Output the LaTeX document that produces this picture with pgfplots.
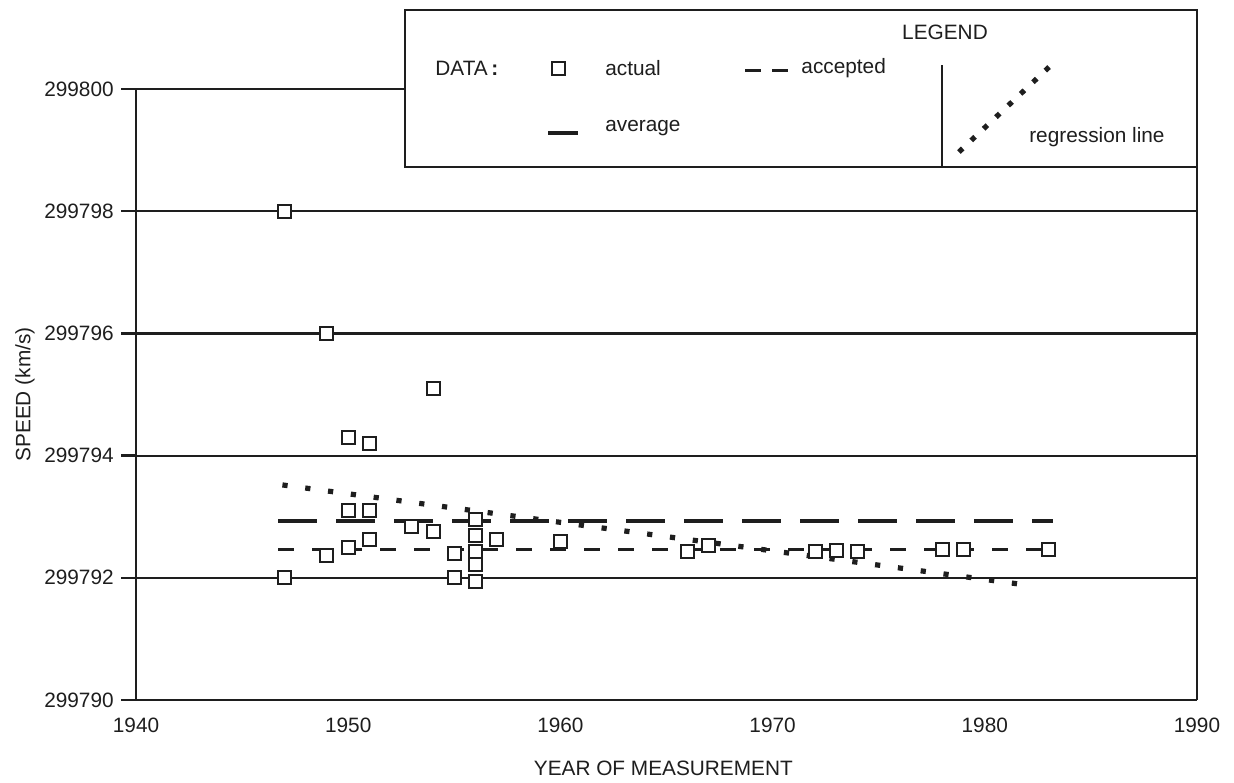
\documentclass[border=0pt]{standalone}
\usepackage{fontspec}
\setmainfont{Liberation Sans}
\usepackage{pgfplots}
\pgfplotsset{compat=1.18}
\definecolor{ink}{RGB}{30,30,30}
% exact textual shift of the speeds by 299790 (keeps sub-unit precision)
\makeatletter
\def\spTrafo#1{%
  \in@{Y}{#1}%
  \ifin@ \edef\sp@in{#1}\else \pgfmathfloatparsenumber{#1}\let\sp@in\pgfmathresult \fi
  \expandafter\sp@L\sp@in\sp@end}
\def\sp@L#1Y#2.#3e#4]#5\sp@end{%
  \ifnum#4=5 \sp@S#2#3000000\sp@end
  \else \edef\pgfmathresult{#1Y#2.#3e#4]}\fi}
\def\sp@S#1#2#3#4#5#6#7\sp@end{%
  \edef\sp@num{\the\numexpr#1#2#3#4#5#6-299790\relax.#7}%
  \pgfmathfloatparsenumber{\sp@num}}
\makeatother
\begin{document}
\fontsize{10.4}{12.5}\selectfont
\begin{tikzpicture}[font=\fontsize{10.4}{12.5}\selectfont]
\begin{axis}[
  scale only axis, width=530.5pt, height=305.5pt,
  xmin=1940, xmax=1990, ymin=299790, ymax=299800,
  y coord trafo/.code={\spTrafo{#1}},
  xtick={1940,1950,1960,1970,1980,1990},
  xticklabels={1940,1950,1960,1970,1980,1990},
  ytick={299790,299792,299794,299796,299798,299800},
  yticklabels={299790,299792,299794,299796,299798,299800},
  axis lines=left, axis line style={-, line width=1.2pt, draw=ink},
  xtick style={draw=none},
  ytick style={line width=1.2pt, draw=ink},
  tick align=outside, major tick length=7.5pt,
  ymajorgrids, grid style={line width=1.1pt, draw=ink},
  xticklabel style={yshift=2.3pt, text=ink},
  yticklabel style={text=ink},
  clip=false,
  xlabel={YEAR OF MEASUREMENT}, ylabel={SPEED (km/s)},
  xlabel style={at={(axis description cs:0.497,0)}, anchor=center, yshift=-34pt, text=ink},
  ylabel style={at={(axis description cs:-0.1046,0.5)}, anchor=center, text=ink},
]
% average
\addplot[ink, line width=2pt, dash pattern=on 19.5pt off 9.5pt] coordinates {(1946.7,299792.93)(1983.2,299792.93)};
% accepted
\addplot[ink, line width=1.5pt, dash pattern=on 8pt off 9pt] coordinates {(1946.7,299792.458)(1983.2,299792.458)};
% regression line
\addplot[ink, line width=2.6pt, dash pattern=on 2.6pt off 8.9pt] coordinates {(1946.9,299793.52)(1982,299791.88)};
% actual data
\addplot[only marks, mark=square*, mark size=3.25pt, mark options={fill=white, draw=ink, line width=1pt}] coordinates {
(1947,299798.0)(1949,299796.0)(1954,299795.1)(1950,299794.3)(1951,299794.2)
(1947,299792.0)(1949,299792.37)(1950,299793.1)(1951,299793.1)(1950,299792.5)
(1951,299792.62)(1953,299792.84)(1954,299792.75)(1955,299792.4)(1955,299792.0)
(1956,299792.95)(1956,299792.7)(1956,299792.43)(1956,299792.21)(1956,299791.94)
(1957,299792.62)(1960,299792.6)(1966,299792.43)(1967,299792.53)(1972,299792.43)
(1973,299792.45)(1974,299792.43)(1978,299792.46)(1979,299792.46)(1983,299792.46)};
% legend box
\draw[ink, line width=1.2pt] (rel axis cs:1,0) -- (rel axis cs:1,0.8723);
\draw[ink, line width=1.2pt, fill=white] (rel axis cs:0.2535,0.8723) rectangle (rel axis cs:1,1.1293);
\draw[ink, line width=1.2pt] (rel axis cs:0.7597,0.8723) -- (rel axis cs:0.7597,1.0393);
% legend samples
\addplot[forget plot, only marks, mark=square*, mark size=3.25pt, mark options={fill=white, draw=ink, line width=1pt}] coordinates {(1959.93,299800.344)};
\addplot[forget plot, ink, line width=1.5pt, dash pattern=on 8pt off 5.5pt] coordinates {(1968.70,299800.311)(1970.73,299800.311)};
\addplot[forget plot, ink, line width=2pt] coordinates {(1959.42,299799.28)(1960.83,299799.28)};
\addplot[forget plot, ink, line width=2.6pt, dash pattern=on 2.6pt off 5.88pt] coordinates {(1978.78,299798.969)(1983.03,299800.36)};
\node[anchor=center, text=ink] at (rel axis cs:0.7625,1.0933) {LEGEND};
\node[anchor=west, inner sep=0pt, text=ink] at (rel axis cs:0.2818,1.0344) {DATA\,\textbf{:}};
\node[anchor=west, inner sep=0pt, text=ink] at (rel axis cs:0.4420,1.0344) {actual};
\node[anchor=west, inner sep=0pt, text=ink] at (rel axis cs:0.6268,1.0344) {accepted};
\node[anchor=west, inner sep=0pt, text=ink] at (rel axis cs:0.4420,0.9362) {average};
\node[anchor=center, text=ink] at (rel axis cs:0.9057,0.9215) {regression line};
\path (rel axis cs:-0.1282,-0.1309) (rel axis cs:1.0349,1.1457);
\end{axis}
\end{tikzpicture}
\end{document}
